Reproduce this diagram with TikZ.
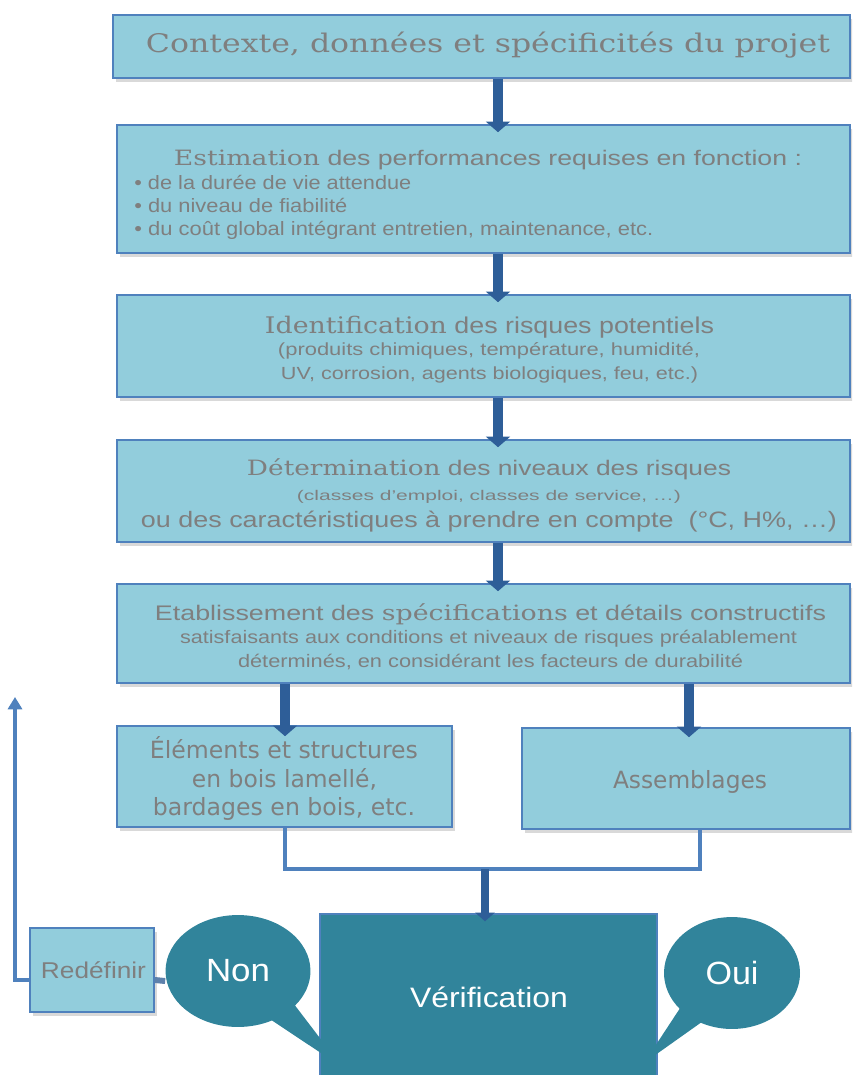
\documentclass[tikz,border=0pt]{standalone}
\usepackage{fontspec}
\setmainfont{Liberation Sans}
\newfontfamily\serifF{DejaVu Serif}
\newfontfamily\verdF{DejaVu Sans}
\usetikzlibrary{shapes.callouts,shadows,arrows.meta,calc,fit}
\definecolor{boxfill}{HTML}{92CDDC}
\definecolor{boxline}{HTML}{4F81BD}
\definecolor{txtgray}{HTML}{7F7F7F}
\definecolor{arrowblue}{HTML}{2E5E98}
\definecolor{vteal}{HTML}{31849B}
\newlength\px \setlength\px{0.02cm}
\newcommand\fw[2]{\resizebox{#1\px}{\height}{#2}}
\newcommand\fs[1]{\fontsize{#1}{#1}\selectfont}
\begin{document}
\begin{tikzpicture}[x=0.02cm,y=-0.02cm,
  box/.style={draw=boxline, line width=0.9pt, fill=boxfill, inner sep=0pt,
    drop shadow={shadow xshift=1.5pt, shadow yshift=-2pt, opacity=0.3}},
  txt/.style={inner sep=0pt, anchor=base, text=txtgray},
  txtl/.style={txt, anchor=base west},
  wtxt/.style={inner sep=0pt, anchor=base, text=white},
  bigarrow/.style={draw=arrowblue, line width=5.5pt, -{Triangle[width=13.5pt,length=6pt]}},
  medarrow/.style={draw=arrowblue, line width=4pt, -{Triangle[width=11pt,length=5pt]}},
  thinline/.style={draw=boxline, line width=2.3pt},
  fbarrow/.style={draw=boxline, line width=2.4pt, -{Triangle[width=8pt,length=7pt]}},
  bubble/.style={ellipse callout, fill=vteal, inner sep=0pt, text=white, callout pointer arc=24}
]
\useasboundingbox (0,0) rectangle (852,1075);
\clip (0,0) rectangle (852,1075);

% boxes
\node[box, fit={(113,15) (850,78)}] (b1) {};
\node[box, fit={(117,125) (850,253)}] (b2) {};
\node[box, fit={(117,295) (850,397)}] (b3) {};
\node[box, fit={(117,440) (850,542)}] (b4) {};
\node[box, fit={(117,584) (850,683)}] (b5) {};
\node[box, fit={(117,726) (452,827)}] (b6) {};
\node[box, fit={(522,728) (850,829)}] (b7) {};
\node[box, fit={(30,928) (154,1012)}] (red) {};

% texts
\node[txt] (t1) at (488,52) {\fw{684}{\serifF\fs{14.6}Contexte, données et spécificités du projet}};

\node[txt] (t2a) at (488,165) {\fw{628}{\fs{12}{\serifF Estimation} des performances requises en fonction :}};
\node[txtl] (t2b) at (134,189) {\fw{277}{\fs{11}• de la durée de vie attendue}};
\node[txtl] (t2c) at (134,212) {\fw{213}{\fs{11}• du niveau de fiabilité}};
\node[txtl] (t2d) at (134,235) {\fw{519}{\fs{11}• du coût global intégrant entretien, maintenance, etc.}};

\node[txt] (t3a) at (489.5,333) {\fw{449}{\fs{13}{\serifF Identification} des risques potentiels}};
\node[txt] (t3b) at (489,355) {\fw{422}{\fs{10}(produits chimiques, température, humidité,}};
\node[txt] (t3c) at (489.5,379) {\fw{417}{\fs{10}UV, corrosion, agents biologiques, feu, etc.)}};

\node[txt] (t4a) at (489,475) {\fw{484}{\fs{12}{\serifF Détermination} des niveaux des risques}};
\node[txt] (t4b) at (489,500) {\fw{384}{\fs{8}(classes d’emploi, classes de service, …)}};
\node[txt] (t4c) at (489,527) {\fw{696}{\fs{12.7}ou des caractéristiques à prendre en compte~ (°C, H\%, …)}};

\node[txt] (t5a) at (490.5,620) {\fw{671}{\fs{12}Etablissement des {\serifF spécifications} et détails constructifs}};
\node[txt] (t5b) at (488.5,643) {\fw{617}{\fs{10.3}satisfaisants aux conditions et niveaux de risques préalablement}};
\node[txt] (t5c) at (490.5,667) {\fw{505}{\fs{10.3}déterminés, en considérant les facteurs de durabilité}};

\node[txt] (t6a) at (284,758) {\fw{268}{\verdF\fs{13.5}Éléments et structures}};
\node[txt] (t6b) at (284.5,787) {\fw{185}{\verdF\fs{13.5}en bois lamellé,}};
\node[txt] (t6c) at (284,815) {\fw{262}{\verdF\fs{13.5}bardages en bois, etc.}};
\node[txt] (t7) at (690,788) {\fw{154}{\verdF\fs{13.5}Assemblages}};
\node[txt] (tred) at (93.5,978) {\fw{105}{\fs{13}Redéfinir}};

% main arrows
\draw[bigarrow] (498,0 |- b1.south) -- ($(498,0 |- b2.north)+(0,8)$);
\draw[bigarrow] (498,0 |- b2.south) -- ($(498,0 |- b3.north)+(0,8)$);
\draw[bigarrow] (498,0 |- b3.south) -- ($(498,0 |- b4.north)+(0,8)$);
\draw[bigarrow] (498,0 |- b4.south) -- ($(498,0 |- b5.north)+(0,8)$);
\draw[bigarrow] (285,0 |- b5.south) -- ($(285,0 |- b6.north)+(0,11)$);
\draw[bigarrow] (689,0 |- b5.south) -- ($(689,0 |- b7.north)+(0,10)$);

% verification
\node[fill=vteal, draw=boxline, line width=0.8pt, inner sep=0pt, fit={(320,914) (657,1090)}] (ver) {};
\node[wtxt] (tver) at (489,1007) {\fw{158}{\fs{16}Vérification}};

% join connector
\coordinate (j) at (485,869);
\draw[thinline] (285,0 |- b6.south) |- (j) -| (700,0 |- b7.south);
\draw[medarrow] (j) -- ($(485,0 |- ver.north)+(0,8)$);

% callouts
\node[bubble, minimum width=82.5pt, minimum height=63.7pt, callout absolute pointer={(342,1067)}] (non) at (238,971) {\fw{64}{\fs{18.3}Non}};
\node[bubble, minimum width=77.4pt, minimum height=63.7pt, callout absolute pointer={(644,1063)}, callout pointer arc=23] (oui) at (732,973) {\fw{53}{\fs{18.3}Oui}};

% feedback
\coordinate (fbtop) at (15,697);
\draw[fbarrow] ($(red.west)+(0,10)$) -| (fbtop);
\draw[draw=boxline!70!gray, line width=3.4pt] ($(red.east)+(0,10)$) -- ($(non.west)+(0,10)$);
\end{tikzpicture}
\end{document}
